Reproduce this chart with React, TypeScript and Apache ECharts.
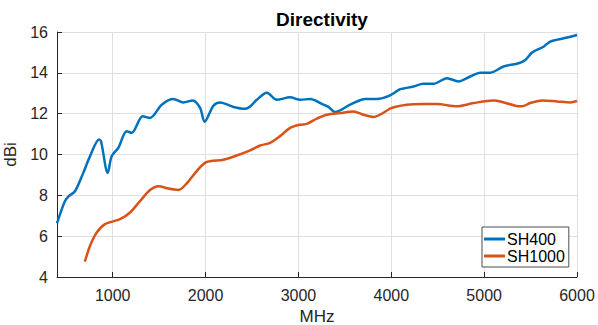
import React, { useEffect, useRef } from "react";
import * as echarts from "echarts";

const sh400Freq = [400, 486, 530, 594, 683, 756, 853, 874, 946, 989, 1061, 1150, 1204, 1323, 1402, 1528, 1653, 1761, 1862, 1941, 1990, 2084, 2156, 2300, 2426, 2480, 2552, 2660, 2767, 2911, 3019, 3126, 3270, 3323, 3396, 3557, 3719, 3845, 3988, 4096, 4150, 4239, 4347, 4455, 4599, 4724, 4850, 4958, 5066, 5209, 5371, 5443, 5515, 5640, 5712, 5856, 6000];
const sh400Dbi = [6.63, 7.72, 7.97, 8.2, 9.1, 9.92, 10.73, 10.65, 9.1, 9.92, 10.33, 11.14, 11.06, 11.87, 11.79, 12.44, 12.72, 12.55, 12.65, 12.28, 11.6, 12.39, 12.55, 12.33, 12.24, 12.35, 12.68, 13.02, 12.68, 12.8, 12.68, 12.72, 12.44, 12.33, 12.08, 12.44, 12.72, 12.72, 12.9, 13.2, 13.25, 13.33, 13.46, 13.46, 13.74, 13.58, 13.82, 14.01, 14.01, 14.31, 14.47, 14.63, 14.99, 15.28, 15.53, 15.69, 15.85];

const sh1000Freq = [700, 756, 828, 917, 1079, 1187, 1294, 1402, 1492, 1599, 1707, 1798, 1905, 2006, 2192, 2336, 2480, 2588, 2695, 2803, 2911, 3019, 3091, 3198, 3306, 3450, 3593, 3701, 3809, 4006, 4168, 4347, 4491, 4707, 4886, 5102, 5174, 5336, 5407, 5497, 5623, 5784, 5928, 6000];
const sh1000Dbi = [4.75, 5.53, 6.18, 6.59, 6.83, 7.16, 7.72, 8.26, 8.45, 8.33, 8.26, 8.59, 9.19, 9.62, 9.74, 9.95, 10.2, 10.44, 10.57, 10.9, 11.3, 11.46, 11.5, 11.76, 11.95, 12.03, 12.11, 11.95, 11.84, 12.28, 12.44, 12.47, 12.47, 12.36, 12.52, 12.65, 12.6, 12.39, 12.36, 12.52, 12.65, 12.6, 12.55, 12.62];

const seriesNames = ["SH400", "SH1000"];
const seriesColors = ["#0072BD", "#D95319"];
const titleText = "Directivity";
const xName = "MHz";
const yName = "dBi";

const FONT = "'Liberation Sans', Arial, Helvetica, sans-serif";
const TXT = "#262626";

export default function App() {
  const ref = useRef<HTMLDivElement>(null);
  useEffect(() => {
    if (!ref.current) return;
    const chart = echarts.init(ref.current, undefined, { renderer: "svg" });
    const zip = (a: number[], b: number[]) => a.map((v, i) => [v, b[i]]);
    chart.setOption({
      animation: false,
      backgroundColor: "#ffffff",
      textStyle: { fontFamily: FONT, color: TXT },
      title: {
        text: titleText,
        left: 317,
        textAlign: "center",
        top: 5,
        textStyle: { fontFamily: FONT, fontWeight: "bold", fontSize: 19, color: "#000" },
      },
      grid: { left: 57, right: 21, top: 32, bottom: 48, containLabel: false, outerBoundsMode: "none" },
      xAxis: {
        type: "value",
        min: 400,
        max: 6000,
        splitNumber: 5,
        name: xName,
        nameLocation: "middle",
        nameGap: 27,
        nameTextStyle: { fontFamily: FONT, fontSize: 17, lineHeight: 17, color: TXT },
        axisLine: { show: true, onZero: false, lineStyle: { color: TXT, width: 1 } },
        axisTick: { show: true, inside: true, length: 5, lineStyle: { color: TXT } },
        axisLabel: {
          showMinLabel: false,
          fontFamily: FONT,
          fontSize: 16,
          color: TXT,
          margin: 10,
          formatter: (v: number) => String(v),
        },
        splitLine: { show: true, lineStyle: { color: "#dfdfdf", width: 1 } },
      },
      yAxis: {
        type: "value",
        min: 4,
        max: 16,
        interval: 2,
        name: yName,
        nameLocation: "middle",
        nameGap: 28,
        nameRotate: 90,
        nameTextStyle: { fontFamily: FONT, fontSize: 17, color: TXT },
        axisLine: { show: true, onZero: false, lineStyle: { color: TXT, width: 1 } },
        axisTick: { show: true, inside: true, length: 5, lineStyle: { color: TXT } },
        axisLabel: { fontFamily: FONT, fontSize: 16, color: TXT, margin: 9 },
        splitLine: { show: true, lineStyle: { color: "#dfdfdf", width: 1 } },
      },
      legend: {
        data: seriesNames.map((n) => ({ name: n, icon: "rect" })),
        orient: "vertical",
        left: 482,
        top: 227,
        padding: [4, 4, 3, 2],
        itemGap: 1,
        itemWidth: 21,
        itemHeight: 3,
        backgroundColor: "#ffffff",
        borderColor: "#4d4d4d",
        borderWidth: 1,
        borderRadius: 0,
        textStyle: { fontFamily: FONT, fontSize: 16, color: "#000", padding: [0, 0, 0, -3] },
      },
      series: [
        {
          name: seriesNames[0],
          type: "line",
          data: zip(sh400Freq, sh400Dbi),
          smooth: 0.3,
          symbol: "none",
          lineStyle: { color: seriesColors[0], width: 2.5 },
          itemStyle: { color: seriesColors[0] },
        },
        {
          name: seriesNames[1],
          type: "line",
          data: zip(sh1000Freq, sh1000Dbi),
          smooth: 0.3,
          symbol: "none",
          lineStyle: { color: seriesColors[1], width: 2.5 },
          itemStyle: { color: seriesColors[1] },
        },
      ],
    });
    return () => chart.dispose();
  }, []);
  return (
    <div
      ref={ref}
      style={{ position: "fixed", left: 0, top: 0, width: 598, height: 325, background: "#fff" }}
    />
  );
}
